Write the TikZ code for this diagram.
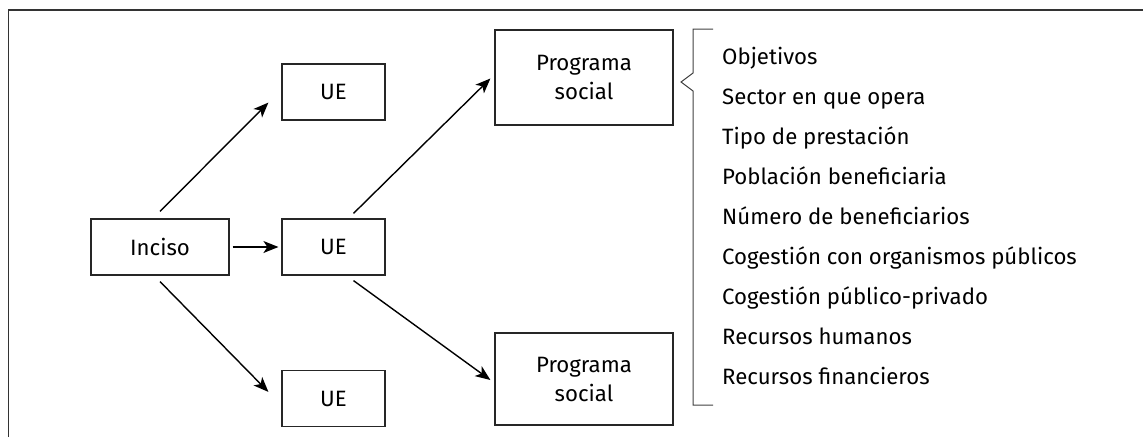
\documentclass[tikz,border=0pt]{standalone}
\usepackage{fontspec}
\setmainfont{Fira Sans}
\usetikzlibrary{arrows.meta}
\begin{document}
\begin{tikzpicture}[x=1pt,y=-1pt,
  box/.style={draw=black!85,line width=1.2pt,inner sep=0pt,font=\fontsize{22.2}{29}\selectfont,align=center},
  uebox/.style={box,minimum width=103pt,minimum height=56pt},
  pbox/.style={box,minimum width=178pt,minimum height=95pt},
  arr/.style={line width=1.4pt,-{Stealth[length=15pt,width=12pt,inset=4pt]}},
  item/.style={anchor=base west,inner sep=0pt,font=\fontsize{22.2}{29}\selectfont},
  frame/.style={draw=black!80,line width=1.5pt}]
\useasboundingbox (0,0) rectangle (1143,437);
\draw[frame] (8.5,437) -- (8.5,10) -- (1143,10);
\node[uebox,minimum width=138pt] (inciso) at (160,247) {Inciso};
\node[uebox] (ueTop) at (333.5,92) {UE};
\node[uebox] (ueMid) at (333.5,247) {UE};
\node[uebox] (ueBot) at (333.5,398.5) {UE};
\node[pbox] (progTop) at (584,77.5) {Programa\\social};
\node[pbox,minimum height=92pt] (progBot) at (584,379) {Programa\\social};
\draw[arr] ([yshift=7pt]inciso.north) -- ([xshift=-13pt,yshift=18pt]ueTop.south west);
\draw[arr] ([xshift=3pt]inciso.east) -- ([xshift=-3pt]ueMid.west);
\draw[arr] ([yshift=-6pt]inciso.south) -- ([xshift=-13pt,yshift=-22pt]ueBot.north west);
\draw[arr] ([xshift=20pt,yshift=5pt]ueMid.north) -- ([xshift=-4pt,yshift=-1pt]progTop.west);
\draw[arr] ([xshift=20pt,yshift=-5pt]ueMid.south) -- ([xshift=-4pt,yshift=-1pt]progBot.west);
\draw[draw=black!75,line width=1pt] (713,29) -- (693,29) -- (693,73) -- (681,82) -- (693,91) -- (693,405) -- (713,405);
\node[item] (i1) at (722,64) {Objetivos};
\node[item] (i2) at (722,104) {Sector en que opera};
\node[item] (i3) at (722,144) {Tipo de prestación};
\node[item] (i4) at (722,184) {Población beneficiaria};
\node[item] (i5) at (722,224) {Número de beneficiarios};
\node[item] (i6) at (722,264) {Cogestión con organismos públicos};
\node[item] (i7) at (722,304) {Cogestión público-privado};
\node[item] (i8) at (722,344) {Recursos humanos};
\node[item] (i9) at (722,384) {Recursos financieros};
\end{tikzpicture}
\end{document}
